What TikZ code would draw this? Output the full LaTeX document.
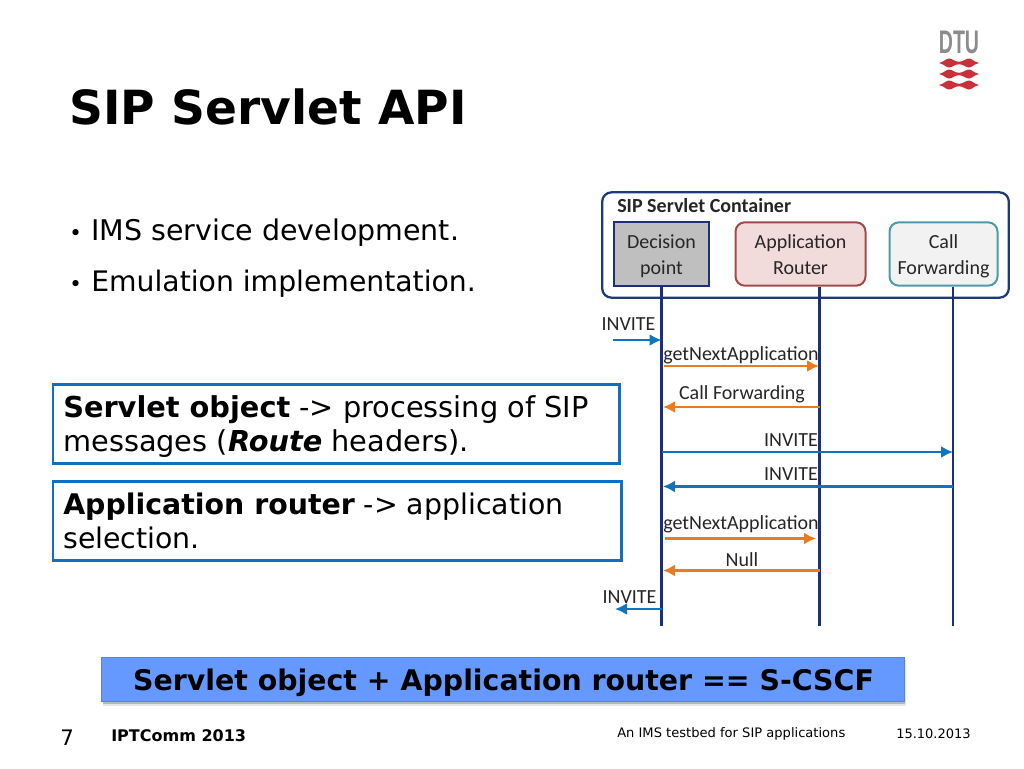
\documentclass[tikz,border=0pt]{standalone}
\usepackage{fontspec}
\setmainfont{DejaVu Sans}
\newfontfamily\calfont{Carlito}
\newfontfamily\libfont{Liberation Sans}
\usetikzlibrary{arrows.meta}
\definecolor{navy}{HTML}{1F3A78}
\definecolor{lifeblue}{HTML}{1B2F7A}
\definecolor{msgblue}{HTML}{0E74C0}
\definecolor{msgorange}{HTML}{EC7A1E}
\definecolor{boxblue}{HTML}{0F6FC0}
\definecolor{bandblue}{HTML}{6699FF}
\definecolor{dtured}{HTML}{C8303A}
\definecolor{ink}{HTML}{262626}
\definecolor{arfill}{HTML}{F2DCDB}
\definecolor{arline}{HTML}{A04A4C}
\definecolor{cfline}{HTML}{4B9BAC}
\newcommand{\lowered}[1]{\raisebox{-1.8pt}{#1}\strut}
\tikzset{
 x=0.75pt,y=-0.75pt,
 txt/.style={inner sep=0pt,anchor=base west,text=black},
 dia/.style={inner sep=0pt,anchor=base,text=ink,font=\calfont\fontsize{15}{16}\selectfont},
 actor/.style={inner sep=0pt,align=center,text=ink,font=\calfont\fontsize{15}{19}\selectfont,line width=1.5pt,minimum height=47.5pt},
 life/.style={draw=lifeblue,line width=1.7pt},
 bmsg/.style={draw=msgblue,line width=1.7pt,-{Latex[length=9pt,width=9pt]}},
 omsg/.style={draw=msgorange,line width=1.7pt,-{Latex[length=9pt,width=9pt]}},
 notebox/.style={draw=boxblue,line width=2.2pt,fill=white,inner sep=0pt,anchor=north west},
}
\newcommand{\ribbon}[1]{\fill[dtured] (939,#1) .. controls (944,#1-1) and (946,#1-4.5) .. (949,#1-4.5) .. controls (952,#1-4.5) and (955,#1-1.2) .. (959,#1-1.2) .. controls (963,#1-1.2) and (966,#1-4.5) .. (969,#1-4.5) .. controls (972,#1-4.5) and (974,#1-1) .. (979,#1) .. controls (974,#1+1) and (972,#1+4.5) .. (969,#1+4.5) .. controls (966,#1+4.5) and (963,#1+1.2) .. (959,#1+1.2) .. controls (955,#1+1.2) and (952,#1+4.5) .. (949,#1+4.5) .. controls (946,#1+4.5) and (944,#1+1) .. (939,#1) -- cycle;}
\begin{document}
\begin{tikzpicture}
\useasboundingbox (0,0) rectangle (1024,768);
\fill[white] (0,0) rectangle (1024,768);
% logo
\node[inner sep=0pt,anchor=base,text=black!45] (dtu) at (959,53) {\libfont\bfseries\fontsize{24.5}{24}\selectfont\scalebox{0.6}[1]{DTU}};
\ribbon{63}\ribbon{74}\ribbon{85}
% title
\node[txt] (title) at (69,124) {\bfseries\fontsize{35.3}{36}\selectfont SIP Servlet API};
% bullets
\node[txt] (b1) at (69,240) {\fontsize{16}{20}\selectfont •};
\node[txt] (t1) at (91,240) {\fontsize{21.35}{24}\selectfont IMS service development.};
\node[txt] (b2) at (69,291) {\fontsize{16}{20}\selectfont •};
\node[txt] (t2) at (91,291) {\fontsize{21.2}{24}\selectfont Emulation implementation.};
% note boxes
\node[notebox,minimum width=425pt,minimum height=59.5pt] (n1) at (51.5,383) {};
\node[txt] (n1a) at (63,417.5) {\fontsize{21.6}{24}\selectfont\textbf{Servlet object} -> processing of SIP};
\node[txt] (n1b) at (63,451) {\fontsize{21.6}{24}\selectfont messages (\textbf{\textit{Route}} headers).};
\node[notebox,minimum width=426.5pt,minimum height=59.5pt] (n2) at (51.5,480) {};
\node[txt] (n2a) at (63,514) {\fontsize{21.3}{24}\selectfont\textbf{Application router} -> application};
\node[txt] (n2b) at (63,548) {\fontsize{21.3}{24}\selectfont selection.};
% band
\fill[black!40,opacity=.25] (103,660) rectangle (906,706);
\fill[black!55,opacity=.4] (103,660) rectangle (905,704);
\node[draw=black!15!bandblue,line width=.6pt,fill=bandblue,inner sep=0pt,minimum width=602pt,minimum height=33.5pt] (band) at (503,679.5) {};
\node[inner sep=0pt,anchor=base,text=black] (bandt) at (503.5,690.5) {\bfseries\fontsize{21.3}{24}\selectfont Servlet object + Application router == S-CSCF};
% footer
\node[txt] (pg) at (60,745) {\fontsize{16}{18}\selectfont 7};
\node[txt] (conf) at (111,741) {\bfseries\fontsize{12}{14}\selectfont IPTComm 2013};
\node[txt] (ftitle) at (617,737) {\fontsize{9.8}{12}\selectfont An IMS testbed for SIP applications};
\node[txt] (fdate) at (896,738) {\fontsize{9.75}{12}\selectfont 15.10.2013};
% container
\node[draw=navy,line width=1.7pt,rounded corners=7pt,inner sep=0pt,minimum width=305pt,minimum height=79pt] (cont) at (805.5,245) {};
\node[inner sep=0pt,anchor=base west,text=ink] (ctitle) at (617,212) {\calfont\bfseries\fontsize{15}{16}\selectfont SIP Servlet Container};
\node[actor,draw=lifeblue,fill=black!25,minimum width=71.5pt] (dp) at (661.5,254) {\lowered{Decision}\\\lowered{point}};
\node[actor,draw=arline,fill=arfill,rounded corners=7pt,minimum width=97.5pt] (ar) at (800.5,254) {\lowered{Application}\\\lowered{Router}};
\node[actor,draw=cfline,fill=black!5,rounded corners=7pt,minimum width=81pt] (cf) at (943.5,254) {\lowered{Call}\\\lowered{Forwarding}};
% lifelines
\coordinate (dpe) at (661.5,626);
\coordinate (are) at (819.5,626);
\coordinate (cfe) at (953,626);
\draw[life] (dp.south) -- (dpe);
\draw[life] (are|-ar.south) -- (are);
\draw[life] (cfe|-cf.south) -- (cfe);
% messages
\coordinate (s1) at (613,340);
\coordinate (e1) at (661.5,340);
\draw[bmsg] (s1) -- (e1);
\node[dia] (l1) at (628.5,330) {INVITE};
\coordinate (s2) at (664,366);
\coordinate (e2) at (819,366);
\draw[omsg] (s2) -- (e2);
\node[dia] (l2) at (741,360) {getNextApplication};
\coordinate (s3) at (819.5,407);
\coordinate (e3) at (663,407);
\draw[omsg] (s3) -- (e3);
\node[dia] (l3) at (742,399) {Call Forwarding};
\coordinate (s4) at (661.5,452);
\coordinate (e4) at (953,452);
\draw[bmsg] (s4) -- (e4);
\node[dia] (l4) at (791,446) {INVITE};
\coordinate (s5) at (953,486.5);
\coordinate (e5) at (663,486.5);
\draw[bmsg] (s5) -- (e5);
\node[dia] (l5) at (791,480) {INVITE};
\coordinate (s6) at (665,538.5);
\coordinate (e6) at (816,538.5);
\draw[omsg] (s6) -- (e6);
\node[dia] (l6) at (741,529) {getNextApplication};
\coordinate (s7) at (819.5,570.5);
\coordinate (e7) at (663,570.5);
\draw[omsg] (s7) -- (e7);
\node[dia] (l7) at (742,566) {Null};
\coordinate (s8) at (661.5,609);
\coordinate (e8) at (615,609);
\draw[bmsg] (s8) -- (e8);
\node[dia] (l8) at (629.5,603.5) {INVITE};
\end{tikzpicture}
\end{document}
